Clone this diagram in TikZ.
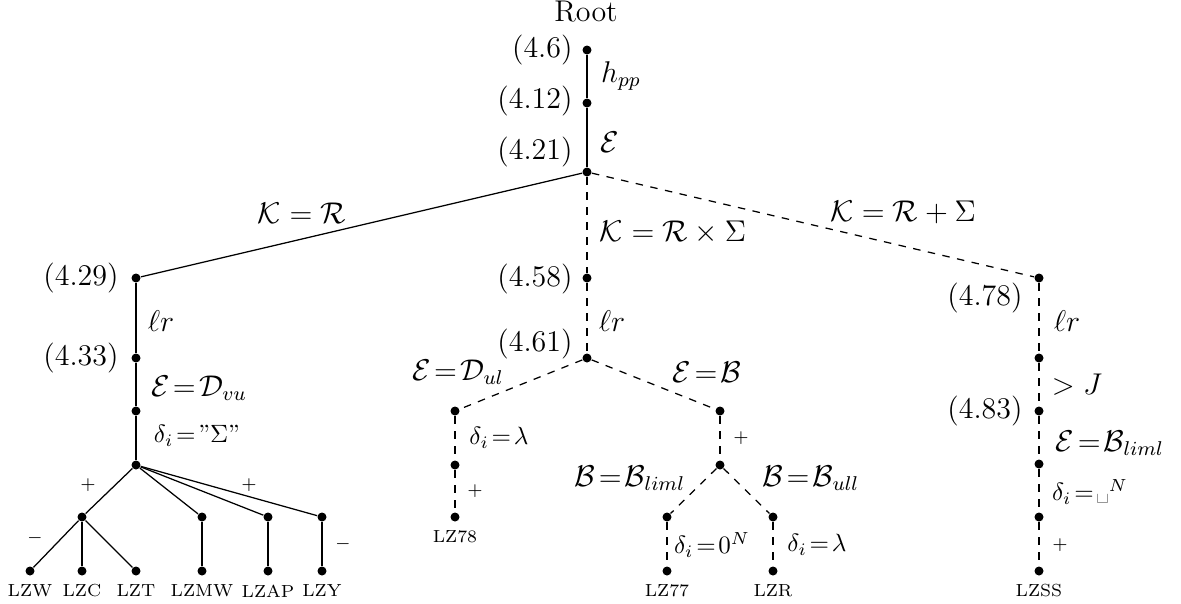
\documentclass[tikz,border=0pt]{standalone}
\begin{document}
\begin{tikzpicture}[x=0.4pt,y=-0.4pt,
  vtx/.style={circle,fill,inner sep=0pt,minimum size=3.6pt},
  lab/.style={font=\fontsize{12}{14}\selectfont, inner sep=0pt},
  sml/.style={font=\fontsize{10}{12}\selectfont, inner sep=0pt},
  leaf/.style={font=\fontsize{7}{8}\selectfont, inner sep=0pt},
  num/.style={lab, anchor=east},
  sol/.style={line width=0.5pt},
  das/.style={line width=0.5pt, dashed}]
\useasboundingbox (0,0) rectangle (1181,603);
% root chain
\node[lab] (root) at (586,12) {Root};
\node[vtx] (a) at (587,50) {};
\node[vtx] (b) at (587,103) {};
\node[vtx] (c) at (587,172) {};
\node[num] (la) at (573,50) {(4.6)};
\node[num] (lb) at (573,101) {(4.12)};
\node[num] (lc) at (573,152) {(4.21)};
\node[lab] (hpp) at (621,76) {$h_{pp}$};
\node[lab] (E0) at (610,142) {$\mathcal{E}$};
\draw[sol] (a) -- (b) -- (c);
% left branch
\node[vtx] (d) at (136,278) {};
\node[vtx] (e) at (136,358) {};
\node[vtx] (f) at (136,411) {};
\node[vtx] (g) at (136,465) {};
\node[vtx] (h) at (82,517) {};
\node[vtx] (h1) at (30,571) {};
\node[vtx] (h2) at (82,571) {};
\node[vtx] (h3) at (136,571) {};
\node[vtx] (j) at (202,517) {};
\node[vtx] (j2) at (202,571) {};
\node[vtx] (k) at (268,517) {};
\node[vtx] (k2) at (268,571) {};
\node[vtx] (l) at (322,517) {};
\node[vtx] (l2) at (322,571) {};
\node[num] (ld) at (119,278) {(4.29)};
\node[num] (le) at (119,358) {(4.33)};
\node[lab] (lr1) at (161,321) {$\ell r$};
\node[lab] (edvu) at (199,388) {$\mathcal{E}\!=\!\mathcal{D}_{vu}$};
\node[sml] (dsig) at (197,436) {$\delta_i\!=\!\mbox{''}\Sigma\mbox{''}$};
\node[leaf] (p1) at (88,485) {$+$};
\node[leaf] (p2) at (249,485) {$+$};
\node[leaf] (m1) at (35,538) {$-$};
\node[leaf] (m2) at (343,544) {$-$};
\node[leaf] (t1) at (30,591) {LZW};
\node[leaf] (t2) at (82,591) {LZC};
\node[leaf] (t3) at (136,591) {LZT};
\node[leaf] (t4) at (202,591) {LZMW};
\node[leaf] (t5) at (268,591) {LZAP};
\node[leaf] (t6) at (322,591) {LZY};
\draw[sol] (c) -- (d);
\draw[sol] (d) -- (e) -- (f) -- (g);
\draw[sol] (g) -- (h); \draw[sol] (g) -- (j); \draw[sol] (g) -- (k); \draw[sol] (g) -- (l);
\draw[sol] (h) -- (h1); \draw[sol] (h) -- (h2); \draw[sol] (h) -- (h3);
\draw[sol] (j) -- (j2); \draw[sol] (k) -- (k2); \draw[sol] (l) -- (l2);
\node[lab] (kr) at (302,213) {$\mathcal{K} = \mathcal{R}$};
% middle branch
\node[vtx] (m) at (587,278) {};
\node[vtx] (n) at (587,358) {};
\node[vtx] (o) at (455,411) {};
\node[vtx] (p) at (455,465) {};
\node[vtx] (q) at (455,517) {};
\node[vtx] (r) at (720,411) {};
\node[vtx] (s) at (720,465) {};
\node[vtx] (t) at (667,517) {};
\node[vtx] (u) at (667,571) {};
\node[vtx] (v) at (773,517) {};
\node[vtx] (w) at (773,571) {};
\node[num] (lm) at (573,279) {(4.58)};
\node[num] (ln) at (573,344) {(4.61)};
\node[lab] (krs) at (673,232) {$\mathcal{K} = \mathcal{R}\times\Sigma$};
\node[lab] (lr2) at (612,321) {$\ell r$};
\node[lab] (edul) at (458,372) {$\mathcal{E}\!=\!\mathcal{D}_{ul}$};
\node[lab] (eb) at (707,372) {$\mathcal{E}\!=\!\mathcal{B}$};
\node[sml] (dl1) at (499,438) {$\delta_i\!=\!\lambda$};
\node[leaf] (p3) at (475,491) {$+$};
\node[leaf] (p4) at (741,438) {$+$};
\node[lab] (bliml) at (630,478) {$\mathcal{B}\!=\!\mathcal{B}_{liml}$};
\node[lab] (bull) at (811,478) {$\mathcal{B}\!=\!\mathcal{B}_{ull}$};
\node[sml] (d0n) at (712,545) {$\delta_i\!=\!0^N$};
\node[sml] (dl2) at (817,545) {$\delta_i\!=\!\lambda$};
\node[leaf] (t7) at (455,537) {LZ78};
\node[leaf] (t8) at (667,591) {LZ77};
\node[leaf] (t9) at (773,591) {LZR};
\draw[das] (c) -- (m) -- (n);
\draw[das] (n) -- (o); \draw[das] (n) -- (r);
\draw[das] (o) -- (p) -- (q);
\draw[das] (r) -- (s);
\draw[das] (s) -- (t); \draw[das] (s) -- (v);
\draw[das] (t) -- (u); \draw[das] (v) -- (w);
% right branch
\node[vtx] (R1) at (1039,278) {};
\node[vtx] (R2) at (1039,358) {};
\node[vtx] (R3) at (1039,411) {};
\node[vtx] (R4) at (1039,464) {};
\node[vtx] (R5) at (1039,517) {};
\node[vtx] (R6) at (1039,571) {};
\node[lab] (krp) at (903,212) {$\mathcal{K} = \mathcal{R}+\Sigma$};
\node[num] (lR1) at (1023,298) {(4.78)};
\node[num] (lR3) at (1023,411) {(4.83)};
\node[lab] (lr3) at (1067,321) {$\ell r$};
\node[lab] (gj) at (1077,385) {$>J$};
\node[lab] (ebl) at (1110,443) {$\mathcal{E}\!=\!\mathcal{B}_{liml}$};
\node[sml] (dsp) at (1090,492) {$\delta_i\!=\!\mbox{\textvisiblespace}^N$};
\node[leaf] (p5) at (1060,545) {$+$};
\node[leaf] (t10) at (1039,591) {LZSS};
\draw[das] (c) -- (R1);
\draw[das] (R1) -- (R2) -- (R3) -- (R4) -- (R5) -- (R6);
\end{tikzpicture}
\end{document}
